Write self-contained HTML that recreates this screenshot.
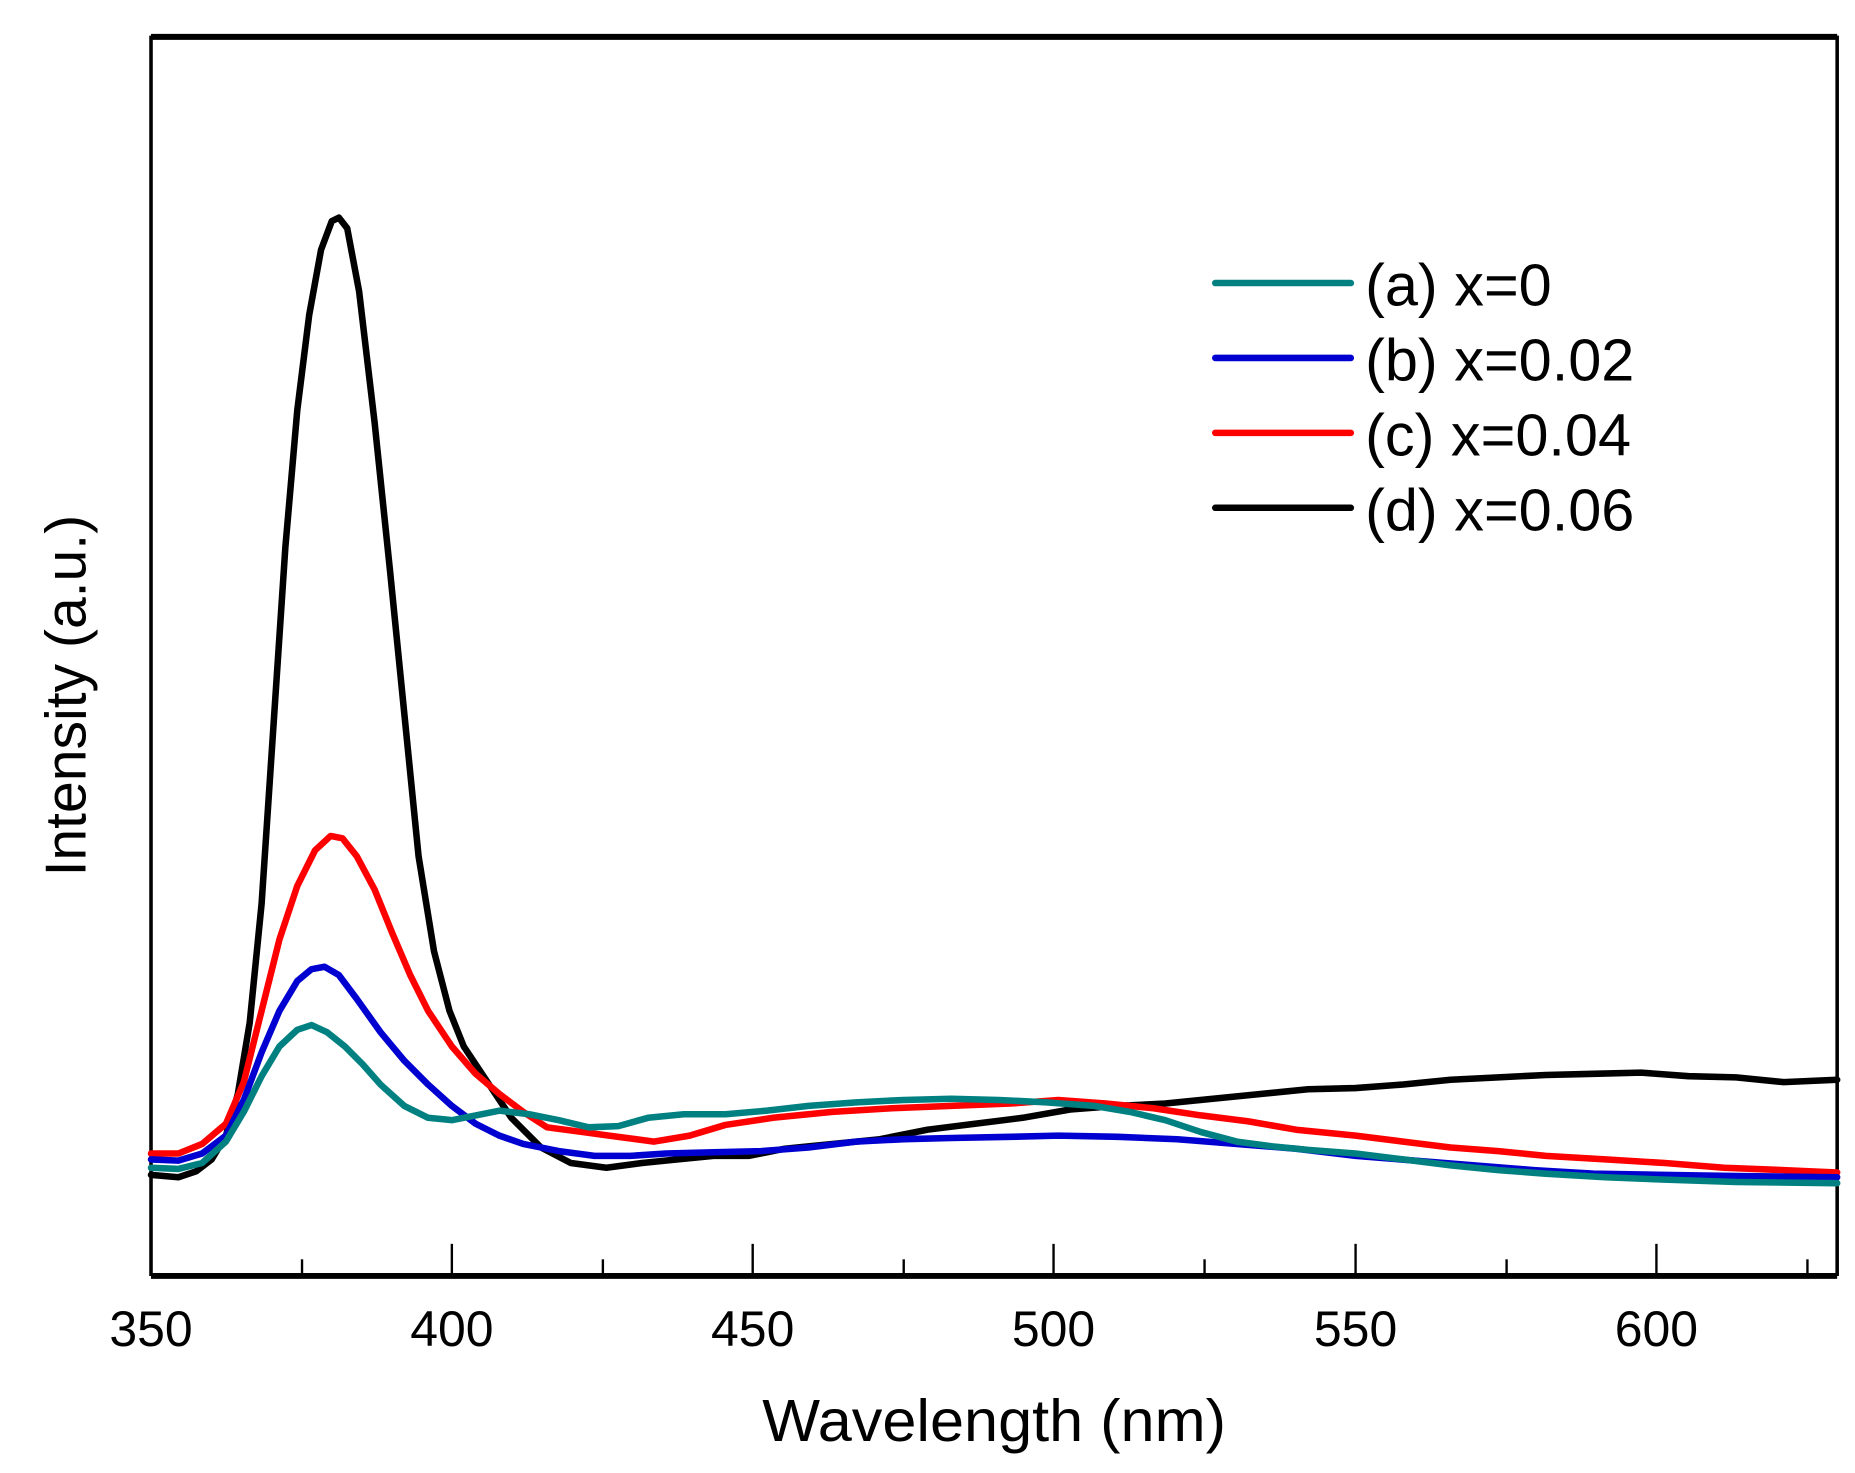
<!DOCTYPE html>
<html><head><meta charset="utf-8"><style>
html,body{margin:0;padding:0;background:#fff;}
svg{display:block;}
text{font-family:"Liberation Sans",Arial,sans-serif;fill:#000;}
</style></head><body>
<svg width="1855" height="1473" viewBox="0 0 1560 1238.7" preserveAspectRatio="none" xmlns="http://www.w3.org/2000/svg">
<rect x="0" y="0" width="1560" height="1238.7" fill="#fff"/>
<g stroke="#000" fill="none">
<line x1="127" y1="31" x2="1545" y2="31" stroke-width="5"/>
<line x1="127" y1="1073" x2="1545" y2="1073" stroke-width="5"/>
<line x1="127" y1="30" x2="127" y2="1073" stroke-width="3"/>
<line x1="1545" y1="30" x2="1545" y2="1073" stroke-width="3"/>
<g stroke-width="2">
<line x1="380" y1="1073" x2="380" y2="1046"/><line x1="633" y1="1073" x2="633" y2="1046"/><line x1="886" y1="1073" x2="886" y2="1046"/><line x1="1140" y1="1073" x2="1140" y2="1046"/><line x1="1393" y1="1073" x2="1393" y2="1046"/>
<line x1="254" y1="1073" x2="254" y2="1059"/><line x1="507" y1="1073" x2="507" y2="1059"/><line x1="760" y1="1073" x2="760" y2="1059"/><line x1="1013" y1="1073" x2="1013" y2="1059"/><line x1="1267" y1="1073" x2="1267" y2="1059"/><line x1="1520" y1="1073" x2="1520" y2="1059"/>
</g>
</g>
<g font-size="42" text-anchor="middle">
<text x="127" y="1132">350</text><text x="380" y="1132">400</text><text x="633" y="1132">450</text><text x="886" y="1132">500</text><text x="1140" y="1132">550</text><text x="1393" y="1132">600</text>
</g>
<text x="836" y="1212" font-size="50" text-anchor="middle" textLength="390" lengthAdjust="spacingAndGlyphs">Wavelength (nm)</text>
<text transform="translate(72,585) rotate(-90)" font-size="48" text-anchor="middle">Intensity (a.u.)</text>
<g fill="none" stroke-width="5.5" stroke-linejoin="round" stroke-linecap="round">
<path stroke="#000" d="M127,988 L150,990 L165,985 L178,975 L190,955 L200,920 L210,860 L220,760 L230,610 L240,460 L250,345 L260,265 L270,210 L279,186 L285,183 L292,192 L302,245 L315,355 L328,480 L340,600 L352,720 L365,800 L378,850 L390,880 L410,910 L430,940 L455,965 L480,978 L510,982 L540,978 L570,975 L600,972 L630,972 L660,966 L700,962 L740,958 L780,950 L820,945 L860,940 L900,933 L940,930 L980,928 L1020,924 L1060,920 L1100,916 L1140,915 L1180,912 L1220,908 L1260,906 L1300,904 L1340,903 L1380,902 L1420,905 L1460,906 L1500,910 L1545,908"/>
<path stroke="#f00" d="M127,970 L150,970 L170,962 L190,945 L205,910 L220,850 L235,790 L250,745 L265,715 L278,703 L288,705 L300,720 L315,748 L330,785 L345,820 L360,850 L380,880 L400,903 L420,920 L440,935 L460,948 L490,952 L520,956 L550,960 L580,955 L610,946 L650,940 L700,935 L750,932 L800,930 L850,928 L890,925 L930,928 L970,932 L1010,938 L1050,943 L1090,950 L1140,955 L1180,960 L1220,965 L1260,968 L1300,972 L1350,975 L1400,978 L1450,982 L1500,984 L1545,986"/>
<path stroke="#0000d0" d="M127,975 L150,976 L170,970 L190,955 L205,925 L220,885 L235,850 L250,825 L262,815 L273,813 L285,820 L300,840 L320,868 L340,892 L360,912 L380,930 L400,945 L420,955 L440,962 L470,968 L500,972 L530,972 L560,970 L600,969 L640,968 L680,965 L720,960 L760,958 L800,957 L850,956 L890,955 L940,956 L990,958 L1040,962 L1090,966 L1140,972 L1190,976 L1240,980 L1290,984 L1340,987 L1400,988 L1460,989 L1545,990"/>
<path stroke="#008080" d="M127,982 L150,983 L170,978 L190,960 L205,935 L220,905 L235,880 L250,866 L262,862 L275,868 L290,880 L305,895 L320,912 L340,930 L360,940 L380,942 L400,938 L420,934 L445,937 L470,942 L495,948 L520,947 L545,940 L575,937 L610,937 L645,934 L680,930 L720,927 L760,925 L800,924 L840,925 L880,927 L920,930 L950,935 L980,942 L1010,952 L1040,960 L1070,964 L1100,967 L1140,970 L1180,975 L1220,980 L1260,984 L1300,987 L1350,990 L1400,992 L1460,994 L1545,995"/>
</g>
<g stroke-width="5.5" stroke-linecap="round">
<line x1="1022" y1="238" x2="1136" y2="238" stroke="#008080"/>
<line x1="1022" y1="301" x2="1136" y2="301" stroke="#0000d0"/>
<line x1="1022" y1="364" x2="1136" y2="364" stroke="#f00"/>
<line x1="1022" y1="427" x2="1136" y2="427" stroke="#000"/>
</g>
<g font-size="50">
<text x="1148" y="257">(a) x=0</text>
<text x="1148" y="320">(b) x=0.02</text>
<text x="1148" y="383">(c) x=0.04</text>
<text x="1148" y="446">(d) x=0.06</text>
</g>
</svg>
</body></html>
